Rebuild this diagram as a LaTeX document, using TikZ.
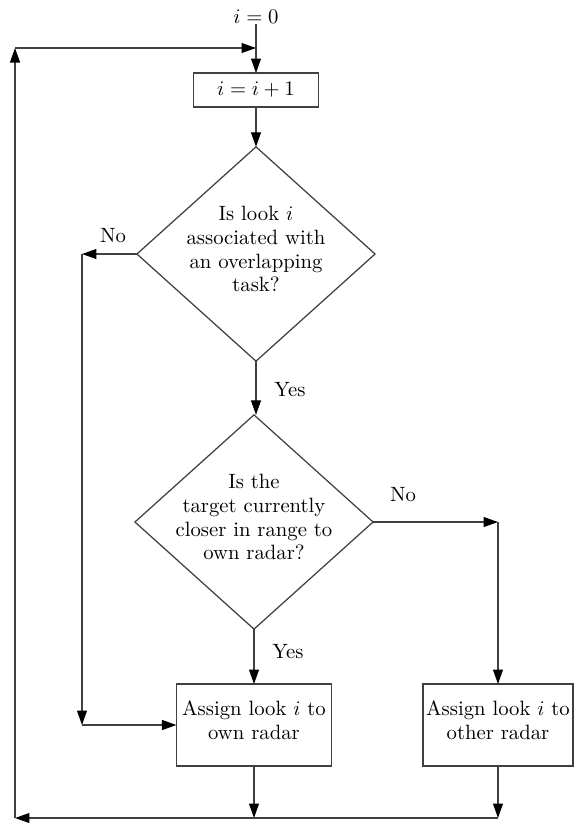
\documentclass[tikz,border=0pt]{standalone}
\usetikzlibrary{shapes.geometric,arrows.meta}
\newcommand\ctext[1]{\raisebox{-2.5pt}{\makebox[0pt]{\smash{\begin{tabular}{@{}c@{}}#1\end{tabular}}}}}
\renewcommand\arraystretch{0.96}
\begin{document}
\begin{tikzpicture}[x=0.483pt,y=-0.483pt,
  line width=0.6pt,
  arr/.style={draw=black!75,-{Triangle[length=7pt,width=4.8pt,color=black]}},
  proc/.style={draw=black!75,rectangle,inner sep=0pt,outer sep=0pt,align=center},
  dec/.style={draw=black!75,diamond,inner sep=0pt,outer sep=0pt,minimum width=115pt,minimum height=103.5pt},
  lbl/.style={inner sep=0pt}]
\useasboundingbox (0,0) rectangle (578,823);
% nodes
\node[lbl] (s) at (256,17) {$i=0$};
\node[proc,minimum width=60.4pt,minimum height=16.4pt] (inc) at (256,90) {$i=i+1$};
\node[dec] (d1) at (256,254) {\ctext{Is look $i$\\associated with\\an overlapping\\task?}};
\node[dec] (d2) at (254,522) {\ctext{Is the\\target currently\\closer in range to\\own radar?}};
\node[proc,minimum width=74.9pt,minimum height=39.6pt] (own) at (254,725) {\ctext{Assign look $i$ to\\own radar}};
\node[proc,minimum width=72.5pt,minimum height=39.6pt] (other) at (498,725) {\ctext{Assign look $i$ to\\other radar}};
% labels
\node[lbl] (no1) at (113,236) {No};
\node[lbl] (yes1) at (290,390) {Yes};
\node[lbl] (no2) at (403,495) {No};
\node[lbl] (yes2) at (288,652) {Yes};
% corner coordinates
\coordinate (tl) at (15,48);
\coordinate (tj) at (256,48);
\coordinate (nl) at (82,254);
\coordinate (nlb) at (82,725);
\coordinate (nr) at (498,522);
\coordinate (b1) at (254,818);
\coordinate (b2) at (498,818);
\coordinate (bl) at (15,818);
% connectors
\draw[arr] (s) -- (inc);
\draw[arr] (tl) -- (tj);
\draw[arr] (inc) -- (d1);
\draw[arr] (d1.west) -- (nl);
\draw[arr] (nl) -- (nlb);
\draw[arr] (nlb) -- (own.west);
\draw[arr] (d1.south) -- (d1.south |- d2.north);
\draw[arr] (d2.east) -- (nr);
\draw[arr] (nr) -- (other.north);
\draw[arr] (d2.south) -- (own.north);
\draw[arr] (own.south) -- (b1);
\draw[arr] (other.south) -- (b2);
\draw[arr] (b2) -- (bl);
\draw[arr] (bl) -- (tl);
\end{tikzpicture}
\end{document}
